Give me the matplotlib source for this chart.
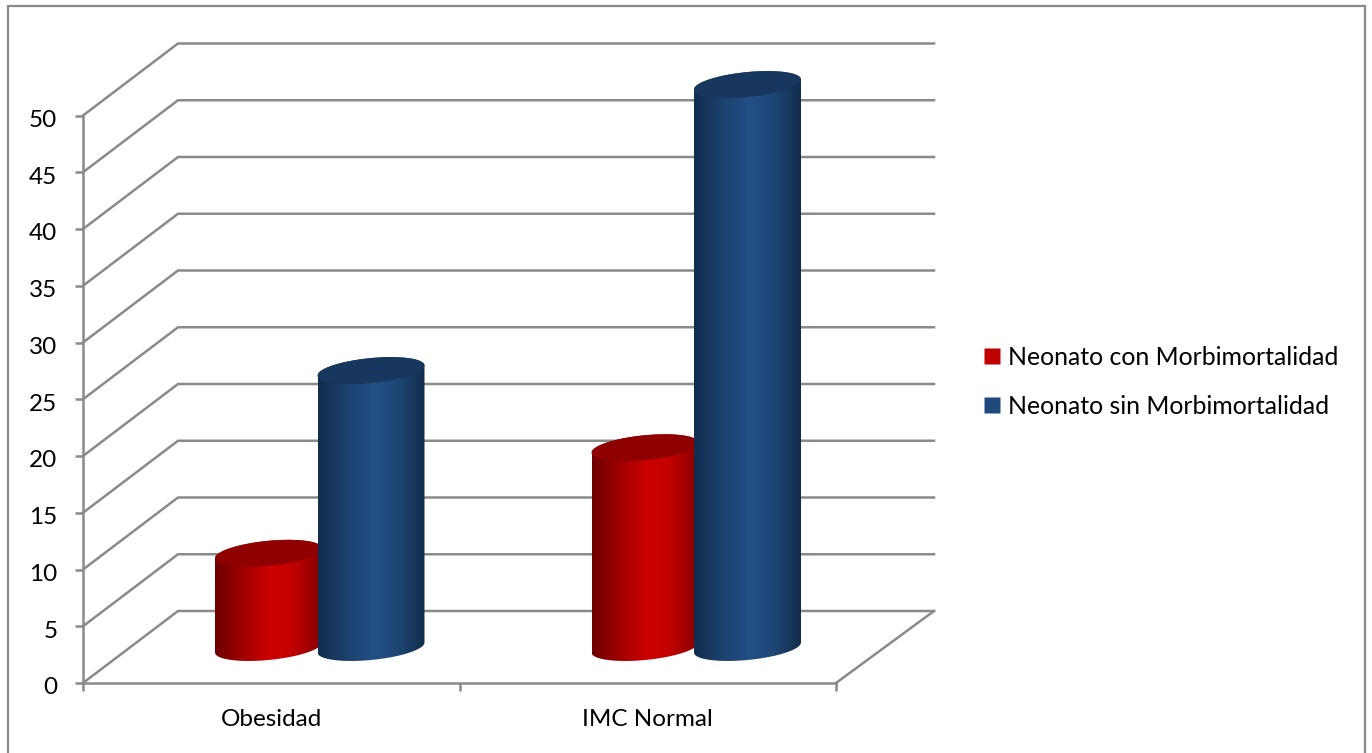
import numpy as np
import matplotlib
matplotlib.use('Agg')
import matplotlib.pyplot as plt
from matplotlib.colors import LinearSegmentedColormap
from matplotlib.lines import Line2D
from matplotlib.patches import PathPatch, Polygon, Rectangle
from matplotlib.path import Path
from matplotlib.transforms import ScaledTranslation

categorias = ['Obesidad', 'IMC Normal']
con_morbi = [8.3, 17.6]
sin_morbi = [24.4, 49.6]
nombres = ['Neonato con Morbimortalidad', 'Neonato sin Morbimortalidad']
yticks = [0, 5, 10, 15, 20, 25, 30, 35, 40, 45, 50]

plt.rcParams['font.family'] = ['Lato', 'DejaVu Sans']
GRIS = '#8a8a8a'
W, H = 1372, 753

fig = plt.figure(figsize=(W / 100, H / 100), dpi=100)
# el marco exterior no tiene linea inferior: queda fuera de la imagen
fig.add_artist(Rectangle((7.5 / W, -10 / H), 1357.5 / W, 757 / H, transform=fig.transFigure,
                         fill=False, edgecolor=GRIS, linewidth=1.6))

# plano frontal del grafico: x 83-836 px, y 683-115.5 px
ax = fig.add_axes([83 / W, 1 - 683 / H, 753 / W, 567.5 / H])
ax.set_xlim(0, 2)
ax.set_ylim(0, 50)

px_x = 2 / 753
px_y = 50 / 567.5
prof_x = 95 * px_x
prof_y = 72 * px_y
fin_x = 2 + 98 * px_x

# paredes
for v in yticks:
    ax.plot([0, prof_x, fin_x], [v, v + prof_y, v + prof_y], color=GRIS, lw=1.8,
            clip_on=False, zorder=1, solid_joinstyle='miter')
ax.plot([2, fin_x], [0, prof_y], color=GRIS, lw=1.8, clip_on=False, zorder=1)

for s in ['top', 'right']:
    ax.spines[s].set_visible(False)
for s in ['left', 'bottom']:
    ax.spines[s].set_color(GRIS)
    ax.spines[s].set_linewidth(1.8)
    ax.spines[s].set_zorder(2)

ax.set_yticks(yticks)
ax.set_xticks([0, 1, 2])
ax.set_xticklabels([])
ax.tick_params(axis='y', length=6, width=1.8, color=GRIS, labelsize=17.5, pad=12.5, labelcolor='black')
ax.tick_params(axis='x', length=6, width=1.8, color=GRIS)
for lab in ax.get_yticklabels():
    lab.set_transform(lab.get_transform() + ScaledTranslation(0, -2 / 72, fig.dpi_scale_trans))
for i, c in enumerate(categorias):
    ax.text(i + 0.5, -3.2, c, ha='center', va='center', fontsize=17.5, color='black')

cmap_rojo = LinearSegmentedColormap.from_list('r', [(0, '#6e0000'), (0.35, '#b00000'), (0.52, '#cc0000'),
                                                    (0.72, '#c40000'), (1, '#860000')])
cmap_azul = LinearSegmentedColormap.from_list('b', [(0, '#132d4e'), (0.3, '#1c4372'), (0.52, '#244f85'),
                                                    (0.72, '#1f4878'), (1, '#142d4c')])
grad = np.linspace(0, 1, 256).reshape(1, -1)
a = 53.5 * px_x
incl = 5 * px_y
b = 12.5 * px_y
base = (683 - 647.5) * px_y


def cilindro(cx, valor, cmap, color_tapa, z):
    cx = cx + prof_x / 2 + px_x
    arriba = base + valor
    t1 = np.linspace(np.pi, 2 * np.pi, 60)
    t2 = np.linspace(0, np.pi, 60)
    xs = np.r_[cx + a * np.cos(t1), cx + a * np.cos(t2)]
    ys = np.r_[base + incl * np.cos(t1) + b * np.sin(t1), arriba + incl * np.cos(t2) + b * np.sin(t2)]
    cuerpo = PathPatch(Path(np.c_[xs, ys]), transform=ax.transData, fc='none', ec='none', clip_on=False)
    ax.add_patch(cuerpo)
    im = ax.imshow(grad, cmap=cmap, extent=[cx - a, cx + a, 0, 60], aspect='auto',
                   zorder=z, interpolation='bilinear', origin='lower')
    im.set_clip_box(fig.bbox)
    im.set_clip_path(cuerpo)
    t = np.linspace(0, 2 * np.pi, 120)
    tapa = Polygon(np.c_[cx + a * np.cos(t), arriba + incl * np.cos(t) + b * np.sin(t)], closed=True,
                   fc=color_tapa, ec='none', zorder=z + 0.1, clip_on=False)
    ax.add_patch(tapa)


desp = 51.25 * px_x
for i in range(len(categorias)):
    cilindro(i + 0.5 - desp, con_morbi[i], cmap_rojo, '#8f0000', 3 + i * 2)
    cilindro(i + 0.5 + desp, sin_morbi[i], cmap_azul, '#17375e', 4 + i * 2)
ax.set_xlim(0, 2)
ax.set_ylim(0, 50)

manejadores = [Line2D([], [], ls='none', marker='s', ms=11, mfc=col, mec='none', label=n)
               for col, n in zip(['#C00000', '#1F497D'], nombres)]
fig.legend(handles=manejadores, loc='center left', bbox_to_anchor=(983.5 / W, 1 - 382 / H), frameon=False,
           fontsize=17.9, handlelength=0.7, handletextpad=0.28, labelspacing=1.03, borderpad=0, borderaxespad=0)

fig.savefig('out.png', dpi=100)
